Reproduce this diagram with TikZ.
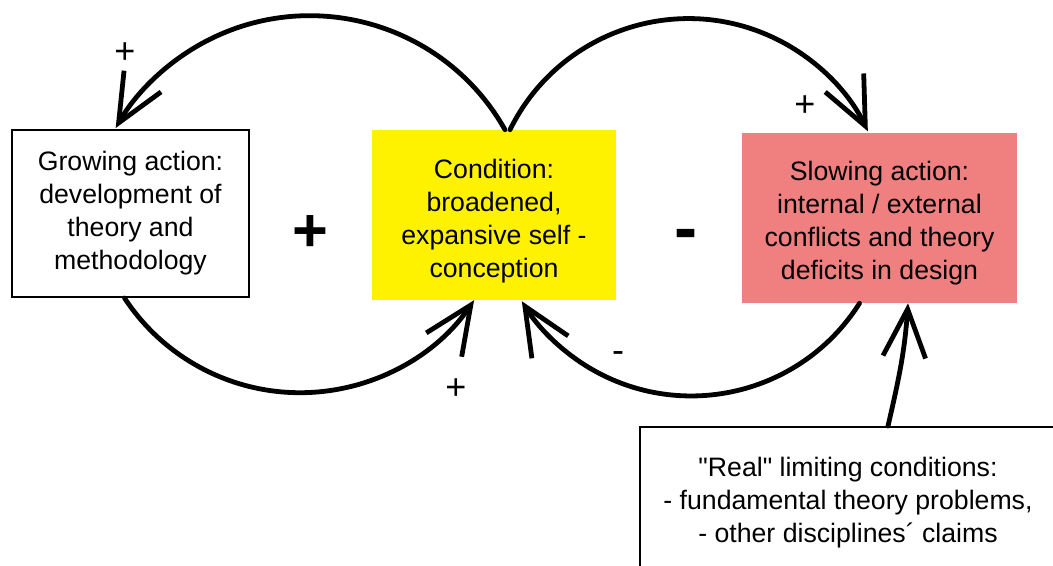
\documentclass[tikz,border=0pt]{standalone}
\usepackage{fontspec}
\setmainfont{Liberation Sans}
\newfontfamily\plainquote{Liberation Sans}
\usetikzlibrary{arrows.meta}
\definecolor{condyellow}{RGB}{255,242,0}
\definecolor{slowpink}{RGB}{240,128,128}
\newcommand{\sq}{{\plainquote"}}
\begin{document}
\begin{tikzpicture}[x=0.75pt,y=0.75pt,
  loopline/.style={line width=3.6pt, line cap=round, -{Straight Barb[length=36pt,width=32pt]}},
  boxtext/.style={align=center, font=\fontsize{20pt}{24.75pt}\selectfont, inner sep=0pt},
  lbl/.style={font=\fontsize{27pt}{30pt}\selectfont, inner sep=0pt},
  biglbl/.style={font=\bfseries\fontsize{46pt}{50pt}\selectfont, inner sep=0pt}]
\useasboundingbox (0,0) rectangle (1053,-565);
\clip (0,0) rectangle (1053,-565);
\fill[white] (0,0) rectangle (1053,-565);

% boxes
\node[boxtext, draw=black, line width=1.5pt, fill=white, minimum width=177.75pt, minimum height=125.25pt] (grow) at (130.5,-213.5)
  {Growing action:\\development of\\theory and\\methodology};
\node[fill=condyellow, inner sep=0pt, minimum width=183pt, minimum height=127.5pt] (cond) at (494,-215) {};
\node[boxtext] (condtext) at ([yshift=-4.5pt]cond.center)
  {Condition:\\broadened,\\expansive self -\\conception};
\node[fill=slowpink, inner sep=0pt, minimum width=206.25pt, minimum height=127.5pt] (slow) at (879.5,-218) {};
\node[boxtext] (slowtext) at ([yshift=-4pt]slow.center)
  {Slowing action:\\internal / external\\conflicts and theory\\deficits in design};
\node[draw=black, line width=1.5pt, fill=white, inner sep=0pt, minimum width=312pt, minimum height=109.5pt] (real) at (848,-500) {};
\node[boxtext] (realtext) at ([yshift=-2.25pt]real.center)
  {\sq Real\sq{} limiting conditions:\\- fundamental theory problems,\\- other disciplines´ claims};

% loops
\coordinate (lt) at ([xshift=8.25pt]cond.north);
\coordinate (rt) at ([xshift=12pt]cond.north);
\coordinate (lb) at ([xshift=-4.5pt]grow.south);
\coordinate (rb) at ([xshift=-15pt]slow.south);
\draw[loopline] (lt) arc[start angle=29.4, end angle=150.1, radius=168pt];
\draw[loopline] (rt) arc[start angle=153.8, end angle=25.7, radius=149.25pt];
\draw[loopline] (lb) arc[start angle=-146.7, end angle=-34, radius=157.5pt];
\draw[loopline] (rb) arc[start angle=-32.3, end angle=-148.4, radius=149.25pt];
\draw[loopline] ([xshift=30pt]real.north) to[out=77,in=-94] ([xshift=21.4pt]slow.south);

% labels
\node[lbl] (p1) at (125,-53) {+};
\node[lbl] (p2) at (805,-106) {+};
\node[lbl] (p3) at (456,-389) {+};
\node[lbl] (m1) at (618,-357) {-};
\node[biglbl] (bp) at (310,-234) {+};
\node[biglbl, font=\bfseries\fontsize{52pt}{56pt}\selectfont] (bm) at (686,-240) {-};
\end{tikzpicture}
\end{document}
